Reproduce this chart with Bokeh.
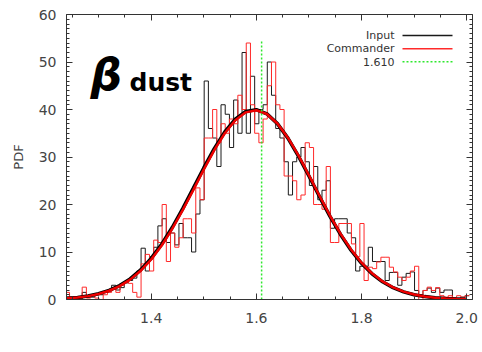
import numpy as np
from bokeh.plotting import figure
from bokeh.models import Range1d, LinearAxis, Label, FixedTicker, PrintfTickFormatter
from bokeh.embed import file_html
from bokeh.resources import INLINE

# ---------------- data ----------------
bin_start = 1.2368
bin_width = 0.008

input_counts = [0.5, 0.5, 0.5, 0, 1.5, 0.5, 0.5, 1, 1, 1.5,
                2, 3, 2, 2.5, 3.5, 4, 4.5, 6, 10.8, 6,
                9, 11, 15.5, 17, 12, 14, 11.5, 16, 13, 13,
                10, 18, 21, 46, 36, 34, 28, 41, 39, 32,
                42, 35, 52, 35, 47, 37, 40, 41, 50, 43,
                36, 34, 29, 22, 29, 30, 32, 29, 24, 28,
                21, 23, 25, 15, 17, 17, 17, 14, 13, 6,
                7, 7, 11, 8, 8, 8, 4, 5.7, 5.7, 3,
                4.7, 5.5, 5.8, 1.9, 1, 1.9, 2.4, 1.5, 2.4, 1.5,
                2, 2, 0.3, 0.3, 0.5, 0.8]

commander_counts = [1.5, 0, 0, 0.2, 2.6, 0.3, 1, 0.3, 0, 1,
                    1.5, 2.2, 1.5, 3, 3.6, 3.4, 1.5, 0.5, 7.5, 9.5,
                    6, 12.5, 12, 20, 8, 14, 11, 13, 17, 17,
                    14, 23.5, 21, 34, 34, 40, 33, 37, 35, 38,
                    37, 43, 40, 54, 41, 35, 33, 38, 45, 50,
                    41, 40, 26, 26, 25, 21, 22, 33, 32, 20,
                    20, 19, 28, 12, 12, 16, 16, 16, 11.7, 9,
                    16, 4, 6.8, 6.5, 7.9, 8.9, 8.9, 6.8, 5.8, 4.7,
                    4, 4.7, 6, 7, 0, 1.9, 2.6, 1.9, 2.5, 0.8,
                    0.5, 0.8, 0.3, 0.8, 0.5, 0.8]

fit_x = [1.24, 1.26, 1.28, 1.30, 1.32, 1.34, 1.36, 1.38, 1.40, 1.42,
         1.44, 1.46, 1.48, 1.50, 1.52, 1.54, 1.56, 1.58, 1.60, 1.62,
         1.64, 1.66, 1.68, 1.70, 1.72, 1.74, 1.76, 1.78, 1.80, 1.82,
         1.84, 1.86, 1.88, 1.90, 1.92, 1.94, 1.96, 1.98, 2.00]
input_fit = [0.26, 0.44, 0.75, 1.22, 1.92, 2.93, 4.34, 6.23, 8.65, 11.64,
             15.16, 19.14, 23.39, 27.70, 31.77, 35.30, 37.99, 39.59, 39.97, 39.09,
             37.03, 33.97, 30.19, 25.99, 21.67, 17.50, 13.69, 10.37, 7.61, 5.41,
             3.73, 2.49, 1.61, 1.01, 0.61, 0.36, 0.20, 0.11, 0.06]
commander_fit = [0.24, 0.42, 0.71, 1.16, 1.84, 2.82, 4.19, 6.04, 8.42, 11.37,
                 14.86, 18.81, 23.04, 27.35, 31.44, 35.00, 37.75, 39.40, 39.85, 39.05,
                 37.06, 34.06, 30.33, 26.16, 21.85, 17.68, 13.86, 10.52, 7.74, 5.51,
                 3.81, 2.55, 1.65, 1.04, 0.63, 0.37, 0.21, 0.12, 0.06]

marker_value = 1.610
marker_top = 54.3

x_ticks = [1.4, 1.6, 1.8, 2.0]
x_minor = [1.25, 1.30, 1.35, 1.40, 1.45, 1.50, 1.55, 1.60, 1.65, 1.70,
           1.75, 1.80, 1.85, 1.90, 1.95, 2.00]
y_ticks = [0, 10, 20, 30, 40, 50, 60]
y_minor = list(range(0, 61))

legend_labels = ["Input", "Commander", "1.610"]

# ---------------- layout ----------------
W, H = 482, 352
FL, FR, FT, FB = 66, 472, 14, 299  # frame edges in pixels
X0, X1 = 1.239, 2.011
Y0, Y1 = 0, 60


def px2x(px):
    return X0 + (px - FL) / (FR - FL) * (X1 - X0)


def py2y(py):
    return Y0 + (FB - py) / (FB - FT) * (Y1 - Y0)


p = figure(width=W, height=H, x_range=Range1d(X0, X1), y_range=Range1d(Y0, Y1),
           output_backend="svg", toolbar_location=None,
           min_border_left=FL, min_border_right=W - FR, min_border_top=FT,
           min_border_bottom=H - FB)
p.outline_line_color = None
p.grid.visible = False
p.background_fill_color = "white"
p.border_fill_color = "white"

AX = "#333333"
TXT = "#444444"


def style_axis(ax):
    ax.axis_line_color = AX
    ax.axis_line_width = 1
    ax.major_tick_line_color = AX
    ax.minor_tick_line_color = AX
    ax.major_tick_in = 6
    ax.major_tick_out = 0
    ax.minor_tick_in = 3
    ax.minor_tick_out = 0


xa = p.xaxis[0]
xa.ticker = FixedTicker(ticks=x_ticks, minor_ticks=x_minor)
xa.formatter = PrintfTickFormatter(format="%.1f")
style_axis(xa)
xa.major_label_text_font = "DejaVu Sans"
xa.major_label_text_font_size = "14px"
xa.major_label_text_color = TXT
xa.major_label_standoff = 13

ya = p.yaxis[0]
ya.ticker = FixedTicker(ticks=y_ticks, minor_ticks=y_minor)
style_axis(ya)
ya.major_label_text_font = "DejaVu Sans"
ya.major_label_text_font_size = "14px"
ya.major_label_text_color = TXT
ya.major_label_standoff = 10
ya.axis_label = "PDF"
ya.axis_label_text_font = "DejaVu Sans"
ya.axis_label_text_font_size = "13px"
ya.axis_label_text_font_style = "normal"
ya.axis_label_text_color = TXT
ya.axis_label_standoff = 10

top = LinearAxis(ticker=FixedTicker(ticks=x_ticks, minor_ticks=x_minor))
style_axis(top)
top.major_label_overrides = {t: "" for t in x_ticks}
top.major_label_standoff = 0
p.add_layout(top, "above")

right = LinearAxis(ticker=FixedTicker(ticks=y_ticks, minor_ticks=y_minor))
style_axis(right)
right.major_label_overrides = {t: "" for t in y_ticks}
right.major_label_standoff = 0
p.add_layout(right, "right")

# ---------------- histograms ----------------
edges = bin_start + bin_width * np.arange(len(input_counts) + 1)
p.step(edges, list(input_counts) + [input_counts[-1]], mode="after",
       line_color="#1a1a1a", line_width=1)
edges_c = bin_start + bin_width * np.arange(len(commander_counts) + 1)
p.step(edges_c, list(commander_counts) + [commander_counts[-1]], mode="after",
       line_color="#ff2a2a", line_width=1)

# ---------------- fits ----------------
p.line(fit_x, input_fit, line_color="black", line_width=3.5)
p.line(fit_x, commander_fit, line_color="#ee0000", line_width=2.5)

# ---------------- marker ----------------
p.line([marker_value, marker_value], [0, marker_top], line_color="#2ee82e",
       line_width=1.5, line_dash="2 2")

# ---------------- legend (manual: label left, key right) ----------------
leg_rows = [35, 48.3, 61.3]
leg_colors = ["#1a1a1a", "#ff2a2a", "#2ee82e"]
leg_dash = ["solid", "solid", "2 2"]
for lab, row, col, dash in zip(legend_labels, leg_rows, leg_colors, leg_dash):
    p.add_layout(Label(x=px2x(394), y=py2y(row), text=lab, text_align="right",
                       text_baseline="middle", text_font="DejaVu Sans",
                       text_font_size="11px", text_color="#333333"))
    p.line([px2x(402), px2x(452)], [py2y(row), py2y(row)], line_color=col,
           line_width=1.5, line_dash=dash)

# ---------------- big title ----------------
p.add_layout(Label(x=px2x(90), y=py2y(74), text="β", text_align="left",
                   text_baseline="alphabetic", text_font="DejaVu Sans",
                   text_font_size="44px", text_font_style="bold italic",
                   text_color="black"))
p.add_layout(Label(x=px2x(129), y=py2y(82), text="dust", text_align="left",
                   text_baseline="alphabetic", text_font="DejaVu Sans",
                   text_font_size="25px", text_font_style="bold",
                   text_color="black"))

# ---------------- x axis title: beta_d dust ----------------
p.add_layout(Label(x=px2x(236), y=py2y(343), text="β", text_align="left",
                   text_baseline="alphabetic", text_font="DejaVu Sans",
                   text_font_size="14px", text_font_style="italic",
                   text_color=TXT))
p.add_layout(Label(x=px2x(248), y=py2y(346), text="d", text_align="left",
                   text_baseline="alphabetic", text_font="DejaVu Sans",
                   text_font_size="10px", text_color=TXT))
p.add_layout(Label(x=px2x(264), y=py2y(343), text="dust", text_align="left",
                   text_baseline="alphabetic", text_font="DejaVu Sans",
                   text_font_size="15px", text_color=TXT))

open("out.html", "w").write(file_html(p, INLINE))
